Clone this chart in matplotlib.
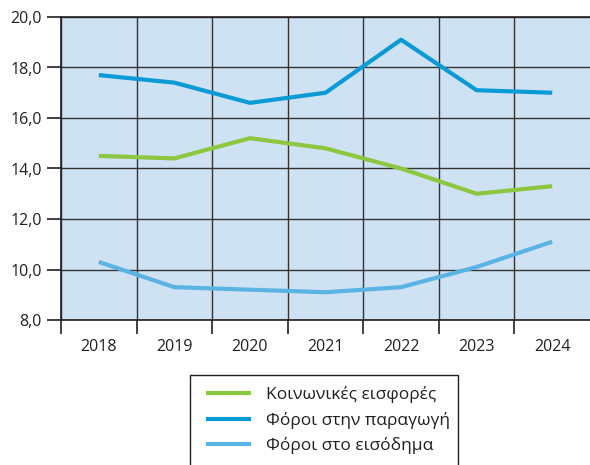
import numpy as np
import matplotlib.pyplot as plt
from matplotlib.patches import Rectangle
from matplotlib.ticker import FixedLocator, FuncFormatter

plt.rcParams['font.family'] = ['Open Sans', 'DejaVu Sans']

# ---------------------- data ----------------------
years = ["2018", "2019", "2020", "2021", "2022", "2023", "2024"]
social = [14.5, 14.4, 15.2, 14.8, 14.0, 13.0, 13.3]       # Κοινωνικές εισφορές
production = [17.7, 17.4, 16.6, 17.0, 19.1, 17.1, 17.0]   # Φόροι στην παραγωγή
income = [10.3, 9.3, 9.2, 9.1, 9.3, 10.1, 11.1]           # Φόροι στο εισόδημα

labels = ["Κοινωνικές εισφορές", "Φόροι στην παραγωγή", "Φόροι στο εισόδημα"]
colors = ["#8dc63f", "#0a9ad6", "#5bb3e4"]

W, H = 590, 465

# ---------------------- plot ----------------------
fig = plt.figure(figsize=(W / 100, H / 100), dpi=100)
ax = fig.add_axes([61 / W, 1 - 320 / H, 1 - 61 / W, (320 - 17) / H])
ax.set_facecolor("#cfe2f3")

x = np.arange(len(years))
for vals, lab, col in zip([social, production, income], labels, colors):
    ax.plot(x, vals, color=col, linewidth=3.0, label=lab, solid_capstyle="butt")

ax.set_xlim(-0.5, len(years) - 0.5)
ax.set_ylim(8, 20)
ax.set_yticks(np.arange(8, 20.1, 2))
ax.yaxis.set_major_formatter(FuncFormatter(lambda v, p: f"{v:.1f}".replace(".", ",")))

ax.set_xticks(x)
ax.set_xticklabels(years)
# separators between years (no mark on the right edge)
ax.xaxis.set_minor_locator(FixedLocator(np.arange(-0.5, len(years) - 1, 1.0)))
ax.tick_params(axis="x", which="major", length=0, pad=14, labelsize=11.5, colors="#231f20")
ax.tick_params(axis="x", which="minor", length=10, width=1.2, color="#231f20")
ax.tick_params(axis="y", length=10, width=1.2, pad=4, labelsize=11.5, colors="#231f20")

ax.grid(True, which="minor", axis="x", color="#333333", linewidth=1.0)
ax.grid(True, which="major", axis="y", color="#333333", linewidth=1.0)
ax.set_axisbelow(True)

ax.spines["right"].set_visible(False)
for side in ["left", "bottom", "top"]:
    ax.spines[side].set_color("#231f20")
    ax.spines[side].set_linewidth(1.2)

# legend box (runs past the bottom edge of the picture)
fig.patches.append(Rectangle((190 / W, -0.02), (458 - 190) / W, (1 - 375 / H) + 0.02,
                             transform=fig.transFigure, facecolor="white",
                             edgecolor="#231f20", linewidth=1.0))
leg = fig.legend(loc="upper left", bbox_to_anchor=(206 / W, 1 - 386 / H),
                 frameon=False, fontsize=12.5,
                 handlelength=2.6, handletextpad=0.85, borderpad=0, labelspacing=0.5,
                 borderaxespad=0)
for line in leg.get_lines():
    line.set_linewidth(3.0)
for t in leg.get_texts():
    t.set_color("#231f20")

plt.savefig("out.png", dpi=100)
